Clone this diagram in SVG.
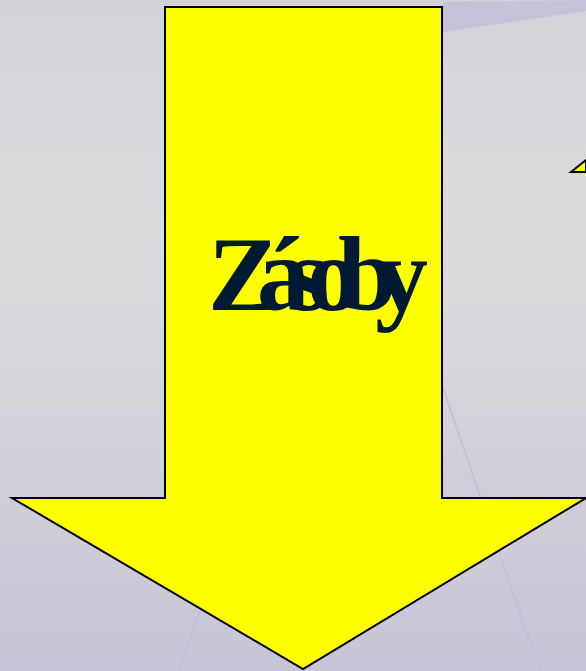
<svg xmlns="http://www.w3.org/2000/svg" width="586" height="671" viewBox="0 0 586 671">
<defs>
<linearGradient id="bg" x1="0" y1="0" x2="0" y2="1">
<stop offset="0" stop-color="#d3d2d9"/>
<stop offset="0.35" stop-color="#dcdcdd"/>
<stop offset="1" stop-color="#c7c5d5"/>
</linearGradient>
<style>
.shape{fill:#ffff00;stroke:#000;stroke-width:2;stroke-linejoin:miter}
.faint{stroke:#bebee0;stroke-width:1.5;fill:none}
.lbl{font-family:"Liberation Serif","Times New Roman",serif;font-weight:bold;font-size:106px;fill:#001a33;letter-spacing:-22px}
</style>
</defs>
<rect width="586" height="671" fill="url(#bg)"/>
<polygon points="443,2 586,0 586,11 443,32" fill="#c5c3da"/>
<line class="faint" x1="443" y1="388" x2="540" y2="671"/>
<line class="faint" x1="200" y1="610" x2="180" y2="671"/>
<g id="small-arrow">
<polygon class="shape" points="571,172 586,160 586,172"/>
</g>
<g id="arrow-zasoby">
<polygon class="shape" points="165,7 442,7 442,498 586,498 303,669 12,498 165,498"/>
<text class="lbl" x="208" y="310">Zásoby</text>
</g>
<g id="connectors"/>
</svg>
